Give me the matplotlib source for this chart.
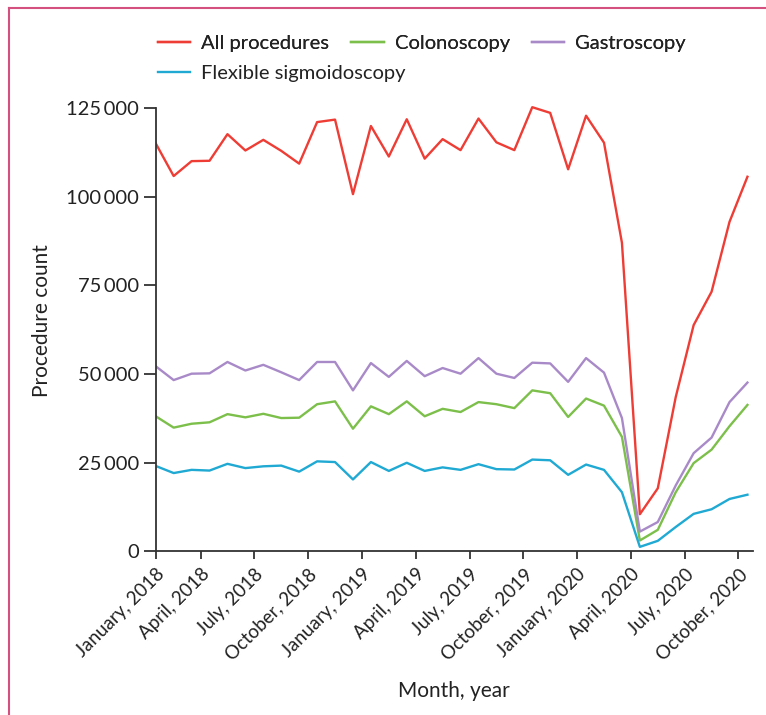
import numpy as np
import matplotlib
matplotlib.use("Agg")
import matplotlib.pyplot as plt
from matplotlib.lines import Line2D

plt.rcParams['font.family'] = ['Lato', 'DejaVu Sans']

# Monthly endoscopy procedure counts, January 2018 to October 2020
all_procedures = [115.0, 105.8, 110.0, 110.1, 117.6, 113.0, 116.0, 112.9, 109.3, 121.0, 121.7, 100.7,
                  119.9, 111.3, 121.8, 110.7, 116.2, 113.1, 122.0, 115.3, 113.1, 125.2, 123.6, 107.7,
                  122.8, 115.2, 87.0, 10.5, 17.8, 43.5, 63.8, 73.2, 92.9, 105.6]
colonoscopy = [38.1, 34.9, 36.0, 36.4, 38.7, 37.8, 38.8, 37.6, 37.7, 41.5, 42.3, 34.6,
               40.9, 38.7, 42.3, 38.1, 40.2, 39.3, 42.1, 41.5, 40.4, 45.4, 44.6, 37.9,
               43.1, 41.1, 32.3, 3.1, 6.1, 16.7, 24.9, 28.7, 35.3, 41.3]
gastroscopy = [52.2, 48.3, 50.1, 50.2, 53.4, 51.0, 52.6, 50.5, 48.3, 53.4, 53.4, 45.4,
               53.1, 49.2, 53.7, 49.4, 51.7, 50.1, 54.5, 50.1, 48.9, 53.2, 53.0, 47.8,
               54.5, 50.4, 37.6, 5.6, 8.3, 18.6, 27.7, 32.1, 42.1, 47.6]
flexible_sigmoidoscopy = [24.1, 22.1, 23.0, 22.8, 24.7, 23.5, 24.0, 24.2, 22.5, 25.4, 25.2, 20.3,
                          25.2, 22.7, 25.0, 22.7, 23.7, 23.0, 24.6, 23.2, 23.1, 25.9, 25.7, 21.6,
                          24.5, 23.0, 16.7, 1.3, 3.0, 6.9, 10.6, 11.9, 14.8, 16.0]

series_names = ["All procedures", "Colonoscopy", "Gastroscopy", "Flexible sigmoidoscopy"]
series_colors = ["#ee3d35", "#7cbf4a", "#a98ac8", "#1fa9d3"]

tick_labels = ["January, 2018", "April, 2018", "July, 2018", "October, 2018",
               "January, 2019", "April, 2019", "July, 2019", "October, 2019",
               "January, 2020", "April, 2020", "July, 2020", "October, 2020"]
y_ticks = [0, 25000, 50000, 75000, 100000, 125000]

# each count is placed in the middle of its month; ticks mark month starts
n = len(all_procedures)
x = np.arange(n) + 0.5

fig = plt.figure(figsize=(7.66, 7.15), dpi=100)
ax = fig.add_axes([0.2033, 0.2287, 0.7795, 0.6452])

for vals, name, col in zip([all_procedures, colonoscopy, gastroscopy, flexible_sigmoidoscopy],
                           series_names, series_colors):
    ax.plot(x, np.array(vals) * 1000, color=col, lw=1.7, label=name)

ax.set_xlim(0.5, 33.8)
ax.set_ylim(0, 130000)
ax.spines['left'].set_bounds(0, 125000)
ax.spines['top'].set_visible(False)
ax.spines['right'].set_visible(False)
for s in ('left', 'bottom'):
    ax.spines[s].set_color('#333333')
    ax.spines[s].set_linewidth(1.3)

xt = [0.5] + [3 * k for k in range(1, len(tick_labels))]
ax.set_xticks(xt)
ax.set_xticklabels(tick_labels, rotation=45, ha='right', rotation_mode='anchor', fontsize=13.5,
                   color='#222222')
ax.set_yticks(y_ticks)
ax.set_yticklabels([f"{v:,}".replace(",", "\u2009") for v in y_ticks], fontsize=14.5, color='#222222')
ax.tick_params(axis='y', length=9, width=1.3, color='#333333', pad=3)
ax.tick_params(axis='x', length=6, width=1.3, color='#333333', pad=4)

ax.set_ylabel("Procedure count", fontsize=15, color='#222222', labelpad=10)
ax.set_xlabel("Month, year", fontsize=15, color='#222222', labelpad=13)

# two-row legend: three entries on the first row, one on the second
leg_kw = dict(loc='upper left', frameon=False, fontsize=14.5, handlelength=1.6,
              handletextpad=0.55, columnspacing=1.1, labelcolor='#222222',
              borderaxespad=0, borderpad=0)
handles = [Line2D([], [], color=c, lw=1.7) for c in series_colors]
leg1 = fig.legend(handles[:3], series_names[:3], ncol=3,
                  bbox_to_anchor=(158 / 766, 1 - 35 / 715), **leg_kw)
fig.add_artist(leg1)
fig.legend(handles[3:], series_names[3:], ncol=1,
           bbox_to_anchor=(158 / 766, 1 - 65 / 715), **leg_kw)

# open frame along the top and left edge
fig.add_artist(Line2D([9 / 766, 9 / 766], [0, 1 - 8 / 715], transform=fig.transFigure,
                      color='#d4507e', lw=1.5))
fig.add_artist(Line2D([9 / 766, 1], [1 - 8 / 715, 1 - 8 / 715], transform=fig.transFigure,
                      color='#d4507e', lw=1.5))

fig.savefig("out.png", dpi=100, facecolor='white')
